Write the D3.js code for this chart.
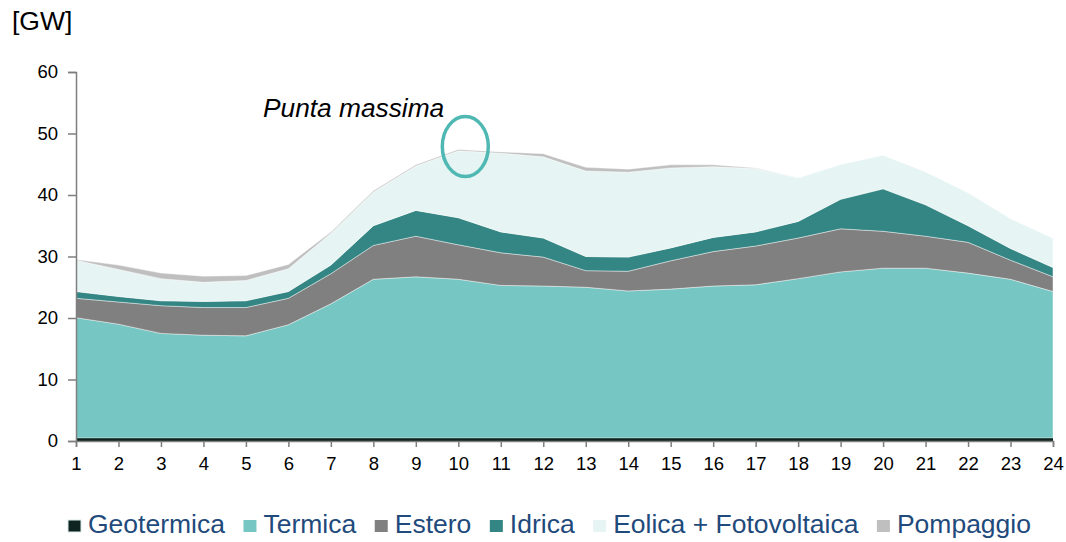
<!DOCTYPE html>
<html><head><meta charset="utf-8">
<script src="https://cdn.jsdelivr.net/npm/d3@7"></script>
<style>
html,body{margin:0;padding:0;background:#fff;}
text{font-family:"Liberation Sans",Arial,sans-serif;}
</style></head>
<body>
<svg id="chart" width="1066" height="542"></svg>
<script>
const hours = [1,2,3,4,5,6,7,8,9,10,11,12,13,14,15,16,17,18,19,20,21,22,23,24];
const geotermica = [0.5,0.5,0.5,0.5,0.5,0.5,0.5,0.5,0.5,0.5,0.5,0.5,0.5,0.5,0.5,0.5,0.5,0.5,0.5,0.5,0.5,0.5,0.5,0.5];
const termica = [19.55,18.5,17.0,16.7,16.6,18.4,21.8,25.8,26.2,25.8,24.8,24.7,24.5,23.9,24.2,24.7,24.9,25.9,27.0,27.6,27.6,26.8,25.8,23.8];
const estero = [3.15,3.6,4.5,4.5,4.6,4.3,4.9,5.5,6.6,5.6,5.3,4.7,2.7,3.2,4.6,5.6,6.3,6.6,7.0,6.0,5.2,5.0,3.1,2.4];
const idrica = [1.1,0.9,0.8,1.0,1.1,1.1,1.4,3.2,4.2,4.4,3.4,3.1,2.3,2.3,2.1,2.3,2.3,2.7,4.8,6.9,5.1,2.7,1.9,1.5];
const eolicaFv = [5.1,4.4,3.6,3.1,3.3,3.7,5.2,5.5,7.2,10.9,12.8,13.2,13.9,13.8,13.0,11.5,10.3,7.1,5.7,5.5,5.4,5.4,4.9,4.8];
const pompaggio = [0.1,0.7,0.9,1.0,0.8,0.7,0.2,0.2,0.2,0.2,0.2,0.5,0.6,0.5,0.5,0.3,0.1,0,0,0,0,0,0,0];
const seriesNames = ["Geotermica","Termica","Estero","Idrica","Eolica + Fotovoltaica","Pompaggio"];
const seriesValues = [geotermica, termica, estero, idrica, eolicaFv, pompaggio];
const seriesColors = ["#0e2421","#76c6c3","#808080","#348684","#e6f4f3","#bfbfbf"];
const yTicks = [0,10,20,30,40,50,60];
const unitLabel = "[GW]";
const annotation = "Punta massima";
const peakHour = 10;

const svg = d3.select("#chart");
const x = d3.scaleLinear().domain([1,24]).range([76,1053]);
const y = d3.scaleLinear().domain([0,60]).range([441,72]);

const rows = hours.map((h,i)=>{
  const r = {hour:h};
  seriesNames.forEach((n,k)=> r[n] = seriesValues[k][i]);
  return r;
});
const stacked = d3.stack().keys(seriesNames)(rows);
const area = d3.area().x(d=>x(d.data.hour)).y0(d=>y(d[0])).y1(d=>y(d[1]));

svg.append("g").selectAll("path").data(stacked).join("path")
  .attr("d", area)
  .attr("fill",(d,i)=>seriesColors[i])
  .attr("stroke",(d,i)=> i===0 ? "none" : "#ffffff")
  .attr("stroke-opacity",0.6)
  .attr("stroke-width",0.7);

// axes
const gx = svg.append("g").attr("transform","translate(0,441)")
  .call(d3.axisBottom(x).tickValues(hours).tickFormat(d3.format("d")).tickSizeOuter(0).tickSize(6).tickPadding(6));
const gy = svg.append("g").attr("transform","translate(76,0)")
  .call(d3.axisLeft(y).tickValues(yTicks).tickSizeOuter(0).tickSize(8).tickPadding(10));
[gx,gy].forEach(g=>{
  g.select(".domain").attr("stroke","#7f7f7f").attr("stroke-width",1.5);
  g.selectAll(".tick line").attr("stroke","#7f7f7f").attr("stroke-width",1.5);
  g.selectAll(".tick text").attr("font-size",18.5).attr("fill","#000")
   .attr("font-family","'Liberation Sans',Arial,sans-serif");
});
gx.selectAll(".tick text").attr("dy","0.9em");

// unit label
svg.append("text").attr("x",12).attr("y",30).attr("font-size",26.5).attr("fill","#000").text(unitLabel);

// annotation
svg.append("text").attr("x",263).attr("y",117).attr("font-size",26.3).attr("font-style","italic")
  .attr("fill","#000").text(annotation);
const peakIdx = hours.indexOf(peakHour);
const peakTop = d3.sum(seriesValues, s=>s[peakIdx]);
svg.append("ellipse").attr("cx",x(peakHour)+7).attr("cy",y(peakTop)-3).attr("rx",23).attr("ry",30)
  .attr("fill","none").attr("stroke","#4fb8b3").attr("stroke-width",3.5);

// legend
const lg = svg.append("g");
let lx = 68;
seriesNames.forEach((n,i)=>{
  lg.append("rect").attr("x",lx).attr("y",520).attr("width",13).attr("height",12)
    .attr("fill",seriesColors[i]).attr("stroke", i===0 ? "#d9ecea" : "none").attr("stroke-width",1);
  const t = lg.append("text").attr("x",lx+20).attr("y",533).attr("font-size",26.5)
    .attr("fill","#1f4a7c").text(n);
  lx += 20 + t.node().getComputedTextLength() + 18.5;
});
</script>
</body></html>
